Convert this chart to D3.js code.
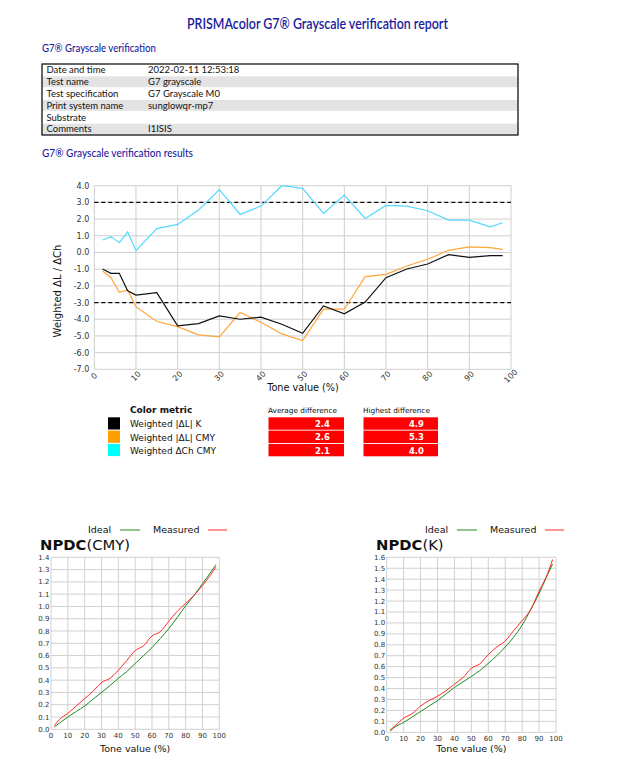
<!DOCTYPE html>
<html><head><meta charset="utf-8">
<script src="https://cdn.jsdelivr.net/npm/d3@7"></script>
<style>body{margin:0;background:#fff}svg{display:block}</style>
</head><body>
<svg id="c" width="641" height="779"></svg>
<script>
// ---------- data ----------
const infoLabels = ["Date and time","Test name","Test specification","Print system name","Substrate","Comments"];
const infoValues = ["2022-02-11 12:53:18","G7 grayscale","G7 Grayscale M0","sunglowqr-mp7","","I1ISIS"];

const tone = [2,4,6,8,10,15,20,25,30,35,40,45,50,55,60,65,70,75,80,85,90,95,98];
const weightedK   = [-0.99,-1.25,-1.25,-2.29,-2.55,-2.41,-4.40,-4.26,-3.80,-4.00,-3.88,-4.30,-4.84,-3.20,-3.68,-2.97,-1.51,-0.99,-0.69,-0.13,-0.29,-0.19,-0.19];
const weightedCMY = [-1.11,-1.51,-2.39,-2.25,-3.25,-4.14,-4.44,-4.94,-5.06,-3.60,-4.18,-4.88,-5.28,-3.40,-3.40,-1.45,-1.31,-0.81,-0.41,0.13,0.33,0.29,0.19];
const weightedCh  = [0.75,0.95,0.59,1.23,0.11,1.43,1.68,2.54,3.76,2.28,2.78,4.00,3.84,2.34,3.44,2.04,2.82,2.78,2.50,1.94,1.94,1.54,1.78];
const limits = [3,-3];
const yTicksMain = [-7,-6,-5,-4,-3,-2,-1,0,1,2,3,4];
const xTicksMain = [0,10,20,30,40,50,60,70,80,90,100];

const metricNames = ["Weighted |ΔL| K","Weighted |ΔL| CMY","Weighted ΔCh CMY"];
const metricColors = ["#000000","#ffa000","#00ffff"];
const lineColors = ["#111111","#ffa53a","#55d8ff"];
const avgDiff = [2.4,2.6,2.1];
const maxDiff = [4.9,5.3,4.0];

const npdcTone = [2,5,10,15,20,25,30,35,40,45,50,55,60,65,70,75,80,85,90,95,98];
const cmyIdeal    = [0.02,0.05,0.10,0.145,0.19,0.245,0.30,0.355,0.415,0.47,0.535,0.60,0.665,0.74,0.82,0.91,1.005,1.09,1.185,1.28,1.34];
const cmyMeasured = [0.03,0.08,0.13,0.19,0.25,0.31,0.38,0.415,0.48,0.56,0.64,0.68,0.76,0.795,0.88,0.96,1.025,1.09,1.17,1.26,1.32];
const kIdeal      = [0.012,0.05,0.09,0.14,0.19,0.24,0.29,0.35,0.41,0.46,0.51,0.565,0.63,0.70,0.78,0.87,0.98,1.12,1.27,1.44,1.54];
const kMeasured   = [0.02,0.06,0.13,0.17,0.24,0.29,0.33,0.38,0.44,0.50,0.585,0.625,0.71,0.78,0.835,0.93,1.02,1.12,1.29,1.45,1.58];

// ---------- drawing ----------
const svg = d3.select("#c");
const blue = "#1c1c9c";
const hdrFont = "Lato, 'Open Sans', sans-serif";
const vFont = "'DejaVu Sans', Verdana, sans-serif";

svg.append("text").attr("x",187).attr("y",29).attr("font-family",hdrFont).attr("font-size",15)
  .attr("font-weight",600).attr("fill",blue).attr("textLength",261).attr("lengthAdjust","spacingAndGlyphs")
  .text("PRISMAcolor G7® Grayscale verification report");
svg.append("text").attr("x",42).attr("y",51.5).attr("font-family",hdrFont).attr("font-size",11.5)
  .attr("font-weight",500).attr("fill",blue).attr("textLength",114).attr("lengthAdjust","spacingAndGlyphs")
  .text("G7® Grayscale verification");
svg.append("text").attr("x",42).attr("y",157).attr("font-family",hdrFont).attr("font-size",11.5)
  .attr("font-weight",500).attr("fill",blue).attr("textLength",151).attr("lengthAdjust","spacingAndGlyphs")
  .text("G7® Grayscale verification results");

// table
const tX=42, tY=64, tW=476, tH=71, rh=tH/infoLabels.length;
const tg = svg.append("g");
infoLabels.forEach((l,i)=>{
  if(i%2===1) tg.append("rect").attr("x",tX).attr("y",tY+i*rh+0.5).attr("width",tW).attr("height",rh-1).attr("fill","#e3e3e3");
  tg.append("text").attr("x",46.5).attr("y",tY+i*rh+9.3).attr("font-family",hdrFont).attr("font-size",9.5).attr("fill","#111").text(l);
  tg.append("text").attr("x",148).attr("y",tY+i*rh+9.3).attr("font-family",hdrFont).attr("font-size",9.5).attr("fill","#111").text(infoValues[i]);
});
tg.append("rect").attr("x",tX).attr("y",tY).attr("width",tW).attr("height",tH).attr("fill","none").attr("stroke","#000").attr("stroke-width",1.2);

// main chart
const x = d3.scaleLinear().domain([0,100]).range([94.3,511]);
const y = d3.scaleLinear().domain([-7,4]).range([369.3,185.7]);
const mg = svg.append("g");
mg.selectAll(".gx").data(xTicksMain).join("line").attr("x1",d=>x(d)).attr("x2",d=>x(d)).attr("y1",y(-7)).attr("y2",y(4)).attr("stroke","#cfcfcf");
mg.selectAll(".gy").data(yTicksMain).join("line").attr("y1",d=>y(d)).attr("y2",d=>y(d)).attr("x1",x(0)).attr("x2",x(100)).attr("stroke","#cfcfcf");
mg.selectAll(".yl").data(yTicksMain).join("text").attr("x",x(0)-5).attr("y",d=>y(d)+3).attr("text-anchor","end")
  .attr("font-family",vFont).attr("font-size",8).attr("fill","#333").text(d=>d.toFixed(1));
mg.selectAll(".xl").data(xTicksMain).join("text")
  .attr("transform",d=>`translate(${x(d)},${y(-7)+7}) rotate(-45)`).attr("text-anchor","middle").attr("dominant-baseline","middle")
  .attr("font-family",vFont).attr("font-size",8).attr("fill","#333").text(d=>d);
mg.selectAll(".lim").data(limits).join("line").attr("x1",x(0)).attr("x2",x(100)).attr("y1",d=>y(d)).attr("y2",d=>y(d))
  .attr("stroke","#000").attr("stroke-width",1.2).attr("stroke-dasharray","4,3");
const line = d3.line().x((d,i)=>x(tone[i])).y(d=>y(d));
[weightedCh,weightedCMY,weightedK].forEach((s,k)=>{
  const ci=[2,1,0][k];
  mg.append("path").attr("d",line(s)).attr("fill","none").attr("stroke",lineColors[ci]).attr("stroke-width",1.2);
});
mg.append("text").attr("transform",`translate(61,291) rotate(-90)`).attr("text-anchor","middle")
  .attr("font-family",vFont).attr("font-size",10).attr("fill","#111").text("Weighted ΔL / ΔCh");
mg.append("text").attr("x",303).attr("y",391).attr("text-anchor","middle")
  .attr("font-family",vFont).attr("font-size",9.7).attr("fill","#111").text("Tone value (%)");

// legend
const lg = svg.append("g").attr("font-family",vFont);
lg.append("text").attr("x",130).attr("y",413).attr("font-size",9).attr("font-weight","bold").attr("fill","#111").text("Color metric");
lg.append("text").attr("x",268).attr("y",413).attr("font-size",7.3).attr("fill","#111").text("Average difference");
lg.append("text").attr("x",363).attr("y",413).attr("font-size",7.3).attr("fill","#111").text("Highest difference");
metricNames.forEach((n,i)=>{
  const ry = 417.3 + i*13.3;
  lg.append("rect").attr("x",108).attr("y",ry).attr("width",12).attr("height",12.2).attr("fill",metricColors[i]);
  lg.append("text").attr("x",130).attr("y",ry+10).attr("font-size",9).attr("fill","#111").text(n);
  lg.append("rect").attr("x",268.5).attr("y",ry).attr("width",75.5).attr("height",12.4).attr("fill","#ff0000");
  lg.append("rect").attr("x",363.5).attr("y",ry).attr("width",74.5).attr("height",12.4).attr("fill","#ff0000");
  lg.append("text").attr("x",330).attr("y",ry+9.6).attr("text-anchor","end").attr("font-size",8.5).attr("font-weight","bold").attr("fill","#fff").text(avgDiff[i].toFixed(1));
  lg.append("text").attr("x",424).attr("y",ry+9.6).attr("text-anchor","end").attr("font-size",8.5).attr("font-weight","bold").attr("fill","#fff").text(maxDiff[i].toFixed(1));
});

// NPDC charts
function npdc(cfg){
  const g = svg.append("g").attr("font-family",vFont);
  const sx = d3.scaleLinear().domain([0,100]).range([cfg.x0,cfg.x1]);
  const sy = d3.scaleLinear().domain([0,cfg.ymax]).range([cfg.y0,557.3]);
  const yt = d3.range(0,Math.round(cfg.ymax*10)+1).map(v=>v/10);
  const xt = d3.range(0,101,10);
  g.selectAll(".gx").data(xt).join("line").attr("x1",d=>sx(d)).attr("x2",d=>sx(d)).attr("y1",sy(0)).attr("y2",sy(cfg.ymax)).attr("stroke","#d0d0d0");
  g.selectAll(".gy").data(yt).join("line").attr("y1",d=>sy(d)).attr("y2",d=>sy(d)).attr("x1",sx(0)).attr("x2",sx(100)).attr("stroke","#d0d0d0");
  g.selectAll(".yl").data(yt).join("text").attr("x",sx(0)-1.5).attr("y",d=>sy(d)+2.5).attr("text-anchor","end")
    .attr("font-size",7).attr("fill","#333").text(d=>d.toFixed(1));
  g.selectAll(".xl").data(xt).join("text").attr("x",d=>sx(d)).attr("y",sy(0)+8.5).attr("text-anchor","middle")
    .attr("font-size",7).attr("fill","#333").text(d=>d);
  const ln = d3.line().curve(d3.curveMonotoneX).x((d,i)=>sx(npdcTone[i])).y(d=>sy(d));
  g.append("path").attr("d",ln(cfg.ideal)).attr("fill","none").attr("stroke","#1e8a1e").attr("stroke-width",1);
  g.append("path").attr("d",ln(cfg.meas)).attr("fill","none").attr("stroke","#ff2a2a").attr("stroke-width",1);
  g.append("text").attr("x",(cfg.x0+cfg.x1)/2).attr("y",752).attr("text-anchor","middle").attr("font-size",9.5).attr("fill","#111").text("Tone value (%)");
  const t = g.append("text").attr("x",cfg.tx).attr("y",550.3).attr("font-size",14.8).attr("fill","#111");
  t.append("tspan").attr("font-weight","bold").text("NPDC");
  t.append("tspan").text(cfg.name);
  g.append("text").attr("x",cfg.lx).attr("y",532.5).attr("font-size",9.5).attr("fill","#111").text("Ideal");
  g.append("line").attr("x1",cfg.lx+32).attr("x2",cfg.lx+52).attr("y1",530).attr("y2",530).attr("stroke","#1e8a1e").attr("stroke-width",1);
  g.append("text").attr("x",cfg.lx+65).attr("y",532.5).attr("font-size",9.5).attr("fill","#111").text("Measured");
  g.append("line").attr("x1",cfg.lx+120).attr("x2",cfg.lx+139).attr("y1",530).attr("y2",530).attr("stroke","#ff2a2a").attr("stroke-width",1);
}
npdc({x0:51,x1:219.3,y0:729.3,ymax:1.4,ideal:cmyIdeal,meas:cmyMeasured,name:"(CMY)",tx:40,lx:88});
npdc({x0:386.7,x1:556,y0:732.3,ymax:1.6,ideal:kIdeal,meas:kMeasured,name:"(K)",tx:376,lx:425});
</script>
</body></html>
